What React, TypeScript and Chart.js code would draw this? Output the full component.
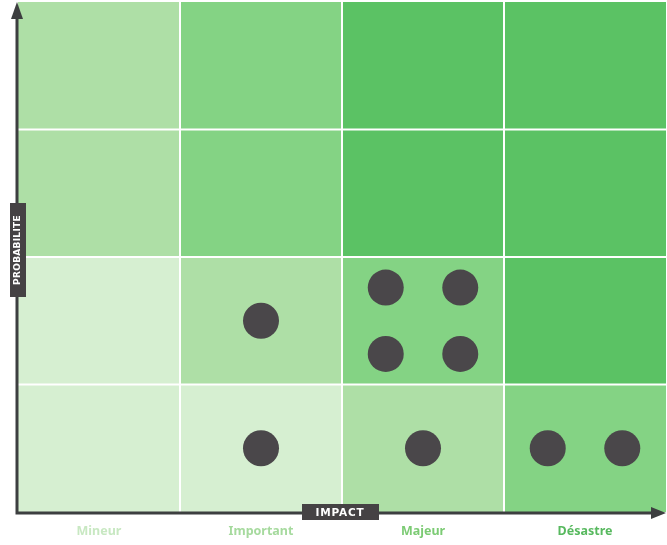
import React, { useEffect, useRef } from "react";
import { Chart, registerables } from "chart.js";

Chart.register(...registerables);

const impactLabels = ["Mineur", "Important", "Majeur", "Désastre"];
const impactLabelColors = ["#c8e8c2", "#a6da9e", "#7ccb74", "#58b95f"];
// cell shades by row (bottom to top), column (left to right)
const cellColors = [
  ["#d6efd1", "#d6efd1", "#aedfa6", "#84d384"],
  ["#d6efd1", "#aedfa6", "#84d384", "#5bc264"],
  ["#aedfa6", "#84d384", "#5bc264", "#5bc264"],
  ["#aedfa6", "#84d384", "#5bc264", "#5bc264"],
];
const riskImpact = [1.5, 2.27, 2.73, 2.27, 2.73, 1.5, 2.5, 3.27, 3.73];
const riskProb = [1.5, 1.76, 1.76, 1.24, 1.24, 0.5, 0.5, 0.5, 0.5];

const matrixPlugin = {
  id: "matrix",
  beforeDatasetsDraw(chart: any) {
    const { ctx, scales } = chart;
    const xs = scales.x;
    const ys = scales.y;
    ctx.save();
    for (let r = 0; r < cellColors.length; r++) {
      for (let c = 0; c < cellColors[r].length; c++) {
        const x0 = xs.getPixelForValue(c);
        const x1 = xs.getPixelForValue(c + 1);
        const y0 = ys.getPixelForValue(r + 1);
        const y1 = ys.getPixelForValue(r);
        ctx.fillStyle = cellColors[r][c];
        ctx.fillRect(x0, y0, x1 - x0, y1 - y0);
      }
    }
    ctx.strokeStyle = "#ffffff";
    ctx.lineWidth = 2;
    for (let i = 1; i < 4; i++) {
      const x = xs.getPixelForValue(i);
      ctx.beginPath();
      ctx.moveTo(x, ys.getPixelForValue(4));
      ctx.lineTo(x, ys.getPixelForValue(0));
      ctx.stroke();
      const y = ys.getPixelForValue(i);
      ctx.beginPath();
      ctx.moveTo(xs.getPixelForValue(0), y);
      ctx.lineTo(xs.getPixelForValue(4), y);
      ctx.stroke();
    }
    // axes
    const ax = xs.getPixelForValue(0) - 1;
    const ay = ys.getPixelForValue(0) + 1;
    const top = ys.getPixelForValue(4);
    const right = xs.getPixelForValue(4);
    ctx.strokeStyle = "#3d3f40";
    ctx.fillStyle = "#3d3f40";
    ctx.lineWidth = 3;
    ctx.beginPath();
    ctx.moveTo(ax, top + 10);
    ctx.lineTo(ax, ay);
    ctx.lineTo(right - 10, ay);
    ctx.stroke();
    ctx.beginPath();
    ctx.moveTo(ax, top);
    ctx.lineTo(ax - 6, top + 17);
    ctx.lineTo(ax + 6, top + 17);
    ctx.closePath();
    ctx.fill();
    ctx.beginPath();
    ctx.moveTo(right, ay);
    ctx.lineTo(right - 15, ay - 6);
    ctx.lineTo(right - 15, ay + 6);
    ctx.closePath();
    ctx.fill();
    // category labels
    ctx.font = "bold 12.5px 'Noto Sans'";
    ctx.textAlign = "center";
    ctx.textBaseline = "middle";
    for (let i = 0; i < impactLabels.length; i++) {
      ctx.fillStyle = impactLabelColors[i];
      ctx.fillText(impactLabels[i], xs.getPixelForValue(i + 0.5), ay + 18);
    }
    ctx.restore();
  },
  afterDatasetsDraw(chart: any) {
    const { ctx, scales } = chart;
    const xs = scales.x;
    const ys = scales.y;
    const ax = xs.getPixelForValue(0);
    const ay = ys.getPixelForValue(0) + 1;
    ctx.save();
    // IMPACT box
    const cx = xs.getPixelForValue(2) - 2;
    ctx.fillStyle = "#454244";
    ctx.fillRect(cx - 38, ay - 9, 77, 16);
    ctx.fillStyle = "#ffffff";
    ctx.font = "bold 10.5px 'DejaVu Sans'";
    ctx.textAlign = "center";
    ctx.textBaseline = "middle";
    (ctx as any).letterSpacing = "0.8px";
    ctx.fillText("IMPACT", cx, ay);
    // PROBABILITE box
    const py = ys.getPixelForValue(2) - 7;
    ctx.fillStyle = "#454244";
    ctx.fillRect(ax - 8, py - 47, 16, 94);
    ctx.translate(ax, py);
    ctx.rotate(-Math.PI / 2);
    ctx.fillStyle = "#ffffff";
    (ctx as any).letterSpacing = "0.3px";
    ctx.font = "bold 9px 'DejaVu Sans'";
    ctx.fillText("PROBABILITE", 0, 0);
    ctx.restore();
  },
};

export default function App() {
  const ref = useRef<HTMLCanvasElement>(null);
  useEffect(() => {
    document.body.style.margin = "0";
    const chart = new Chart(ref.current!, {
      type: "scatter",
      data: {
        datasets: [
          {
            data: riskImpact.map((x, i) => ({ x, y: riskProb[i] })),
            backgroundColor: "#4a474a",
            borderWidth: 0,
            pointRadius: 18,
            pointHoverRadius: 18,
            clip: false as any,
          },
        ],
      },
      options: {
        responsive: false,
        animation: false,
        layout: { autoPadding: false, padding: { left: 18, right: 1, top: 2, bottom: 33 } },
        plugins: { legend: { display: false }, tooltip: { enabled: false } },
        scales: {
          x: { type: "linear", min: 0, max: 4, display: false },
          y: { type: "linear", min: 0, max: 4, display: false },
        },
      },
      plugins: [matrixPlugin],
    });
    return () => chart.destroy();
  }, []);
  return (
    <div style={{ width: 667, height: 545 }}>
      <canvas ref={ref} width={667} height={545} />
    </div>
  );
}
